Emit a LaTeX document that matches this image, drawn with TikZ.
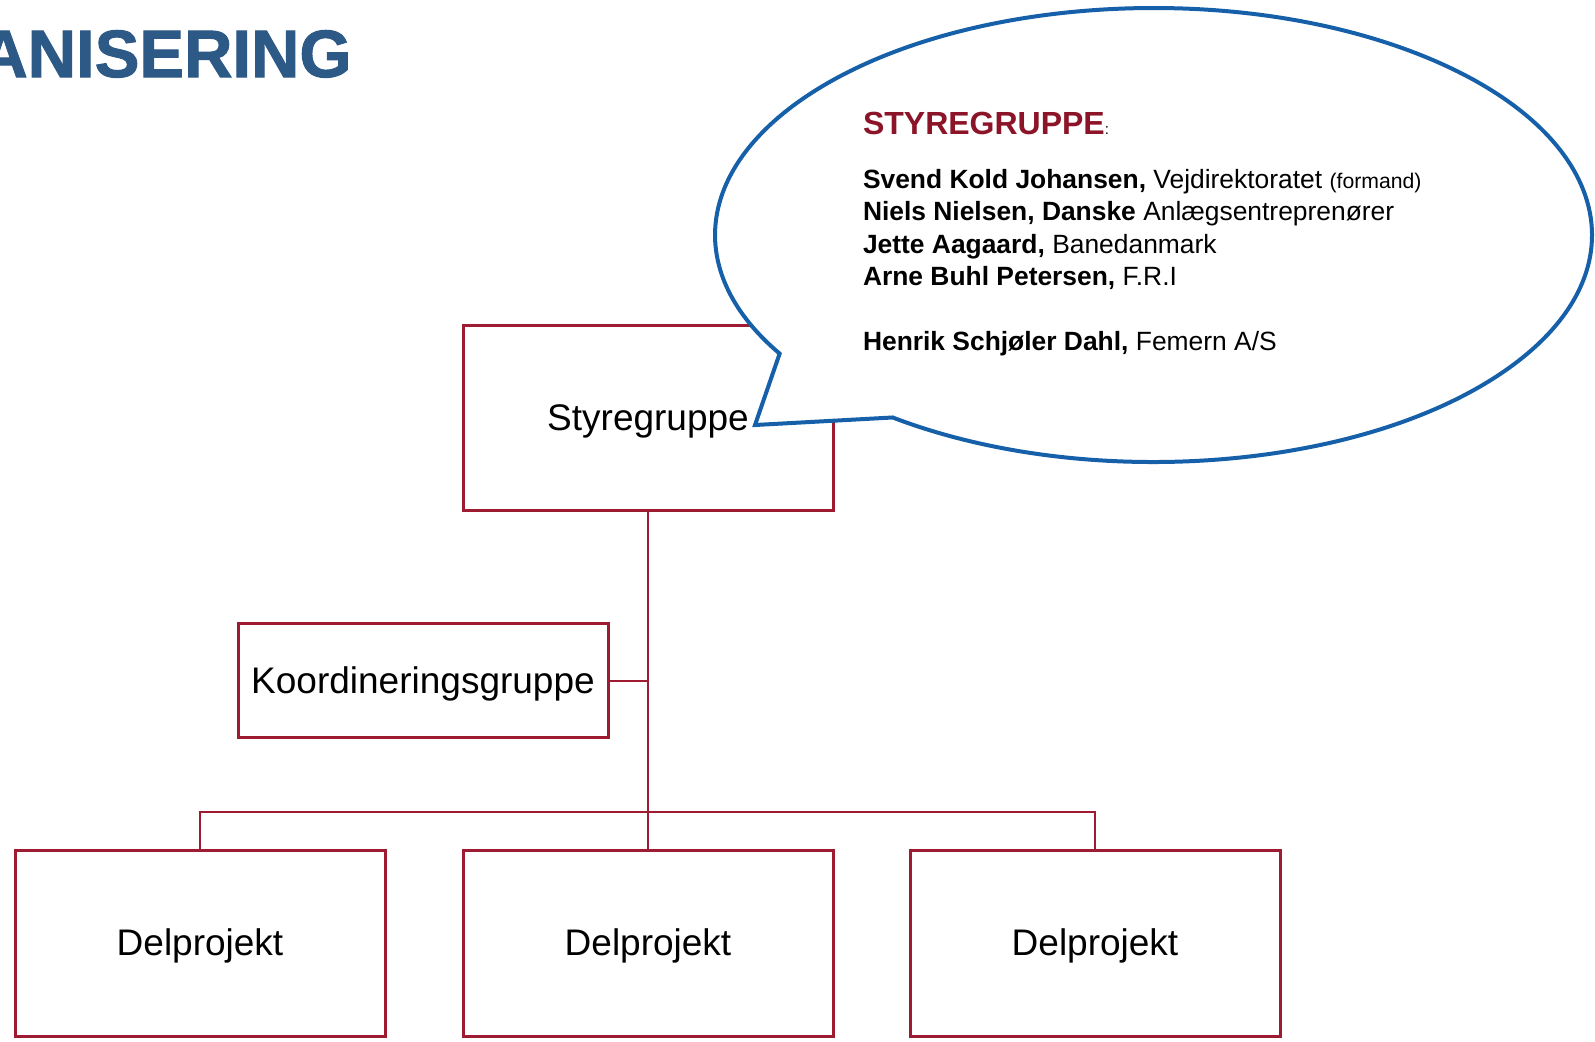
\documentclass[tikz,border=0pt]{standalone}
\usepackage{fontspec}
\setmainfont{Liberation Sans}
\newfontfamily\titlefont[BoldFeatures={FakeBold=1.5}]{Liberation Sans}
\definecolor{d_red}{HTML}{9E1B32}
\definecolor{t_red}{HTML}{8C1428}
\definecolor{d_blue}{HTML}{1560A8}
\definecolor{t_blue}{HTML}{2D5986}

\begin{document}
\begin{tikzpicture}[x=0.5pt,y=-0.5pt,
  box/.style={draw=d_red,line width=1.5pt,minimum width=185pt,text height=16.5pt,font=\fontsize{18.5}{22}\selectfont},
  link/.style={draw=d_red,line width=1pt},
  member/.style={anchor=base west,inner sep=0pt,font=\fontsize{13.2}{16}\selectfont}]

\useasboundingbox (0,0) rectangle (1595,1041);

% title, cut at the left edge
\begin{scope}
\clip (0,0) rectangle (1595,1041);
\node[anchor=base east,inner sep=0pt,text=t_blue,font=\fontsize{33.5}{38}\titlefont\bfseries] (title) at (352,77) {ORGANISERING};
\end{scope}

% boxes
\node[box,minimum height=92.5pt] (styre) at (648,418) {Styregruppe};
\node[box,minimum height=57pt] (koord) at (423,680.5) {Koordineringsgruppe};
\node[box,minimum height=93pt] (dp1) at (200,943) {Delprojekt};
\node[box,minimum height=93pt] (dp2) at (648,943) {Delprojekt};
\node[box,minimum height=93pt] (dp3) at (1095,943) {Delprojekt};

% lines
\coordinate (bus) at (648,812);
\draw[link] (styre) -- (dp2);
\draw[link] (dp1.north) |- (bus) -| (dp3.north);
\draw[link] (koord.east) -- (koord.east -| styre.south);

% speech bubble
\coordinate (ctr) at (1153.5,235);
\coordinate (tip) at (755,425);
\draw[d_blue,line width=2pt,fill=white] (ctr) ++(233.5:219.25pt and 113.5pt)
  arc[start angle=233.5,end angle=571.5,x radius=219.25pt,y radius=113.5pt] -- (tip) -- cycle;

\node[member,font=\fontsize{16}{18}\selectfont\bfseries,text=t_red] (head) at (862.6,134.3) {STYREGRUPPE{\mdseries\fontsize{7.5}{8}\selectfont\color{black}:}};
\node[member] (m1) at (862.6,188.5) {\textbf{Svend Kold Johansen,} Vejdirektoratet {\fontsize{10.6}{12}\selectfont (formand)}};
\node[member] (m2) at (862.6,220.8) {\textbf{Niels Nielsen, Danske} Anlægsentreprenører};
\node[member] (m3) at (862.6,253.1) {\textbf{Jette Aagaard,} Banedanmark};
\node[member] (m4) at (862.6,285.4) {\textbf{Arne Buhl Petersen,} F.R.I};
\node[member] (m5) at (862.6,350) {\textbf{Henrik Schjøler Dahl,} Femern A/S};

\end{tikzpicture}
\end{document}
